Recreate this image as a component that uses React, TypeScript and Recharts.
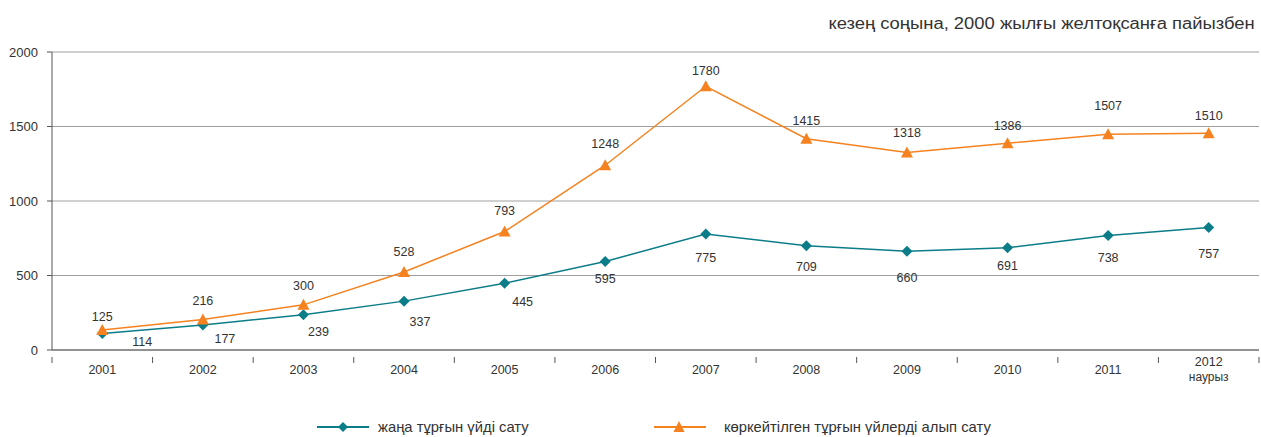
import React from "react";
import { LineChart, Line, XAxis, YAxis, CartesianGrid, LabelList } from "recharts";

// categories along the x axis
const years = ["2001", "2002", "2003", "2004", "2005", "2006", "2007", "2008", "2009", "2010", "2011", "2012"];
const yearNotes = ["", "", "", "", "", "", "", "", "", "", "", "наурыз"];

// plotted positions
const newHousing = [110, 168, 236, 328, 448, 594, 778, 700, 662, 686, 768, 822];
const resale = [135, 205, 303, 524, 795, 1240, 1770, 1418, 1325, 1388, 1448, 1455];

// printed data labels
const newHousingLabels = ["114", "177", "239", "337", "445", "595", "775", "709", "660", "691", "738", "757"];
const resaleLabels = ["125", "216", "300", "528", "793", "1248", "1780", "1415", "1318", "1386", "1507", "1510"];

const yTicks = [0, 500, 1000, 1500, 2000];

const TEAL = "#0b7d88";
const ORANGE = "#f5821f";
const FONT = "'Liberation Sans', Arial, sans-serif";

// label nudges (px), as placed in the original
const tealLabelDx = [40, 22, 15, 16, 18, 0, 0, 0, 0, 0, 0, 0];
const tealLabelDy = [12, 18, 21, 25, 23, 22, 28, 25, 31, 22, 26, 30];
const orangeLabelDy = [-9, -14, -15, -16, -17, -17, -11, -14, -16, -13, -24, -13];

const data = years.map((y, i) => ({
  year: y,
  newHousing: newHousing[i],
  resale: resale[i],
  newLabel: newHousingLabels[i],
  resaleLabel: resaleLabels[i],
}));

const BAND = (1259 - 52) / years.length;

const Diamond = (props: any) => {
  const { cx, cy } = props;
  if (cx == null || cy == null) return null;
  const r = 5.5;
  return <polygon points={`${cx},${cy - r} ${cx + r},${cy} ${cx},${cy + r} ${cx - r},${cy}`} fill={TEAL} />;
};

const Triangle = (props: any) => {
  const { cx, cy } = props;
  if (cx == null || cy == null) return null;
  return <polygon points={`${cx},${cy - 6} ${cx + 6},${cy + 5} ${cx - 6},${cy + 5}`} fill={ORANGE} />;
};

const YearTick = (props: any) => {
  const { x, y, payload, index } = props;
  const note = yearNotes[index];
  const left = x - BAND / 2;
  return (
    <g>
      <line x1={left} y1={y - 1} x2={left} y2={y + 5} stroke="#555" />
      {index === years.length - 1 && <line x1={x + BAND / 2} y1={y - 1} x2={x + BAND / 2} y2={y + 5} stroke="#555" />}
      <text x={x} y={y + (note ? 8 : 16)} textAnchor="middle" fontSize={12.5} fill="#333" fontFamily={FONT}>
        {payload.value}
      </text>
      {note && (
        <text x={x} y={y + 23} textAnchor="middle" fontSize={12} fill="#333" fontFamily={FONT}>
          {note}
        </text>
      )}
    </g>
  );
};

const TealLabel = (props: any) => {
  const { x, y, value, index } = props;
  return (
    <text x={x + tealLabelDx[index]} y={y + tealLabelDy[index]} textAnchor="middle" fontSize={12.5} fill="#333" fontFamily={FONT}>
      {value}
    </text>
  );
};

const OrangeLabel = (props: any) => {
  const { x, y, value, index } = props;
  return (
    <text x={x} y={y + orangeLabelDy[index]} textAnchor="middle" fontSize={12.5} fill="#333" fontFamily={FONT}>
      {value}
    </text>
  );
};

function LegendItem({ color, label, marker, left }: { color: string; label: string; marker: "diamond" | "triangle"; left: number }) {
  return (
    <div style={{ position: "absolute", left, top: 419, display: "flex", alignItems: "center", whiteSpace: "nowrap" }}>
      <svg width={52} height={14} style={{ marginRight: marker === "diamond" ? 9 : 18 }}>
        <line x1={0} y1={7} x2={52} y2={7} stroke={color} strokeWidth={2} />
        {marker === "diamond" ? (
          <polygon points="26,2 31,7 26,12 21,7" fill={color} />
        ) : (
          <polygon points="25,1 30.5,12 19.5,12" fill={color} />
        )}
      </svg>
      <span>{label}</span>
    </div>
  );
}

export default function App() {
  return (
    <div style={{ position: "relative", width: 1261, height: 437, background: "#fff", fontFamily: FONT }}>
      <style>{`body{margin:0}`}</style>
      <div
        style={{
          position: "absolute",
          right: 6,
          top: 15,
          fontSize: 16,
          color: "#333",
          whiteSpace: "nowrap",
          transform: "scaleX(1.15)",
          transformOrigin: "right center",
        }}
      >
        кезең соңына, 2000 жылғы желтоқсанға пайызбен
      </div>
      <LineChart width={1261} height={437} data={data} margin={{ top: 52, right: 2, bottom: 47, left: 0 }}>
        <CartesianGrid vertical={false} stroke="#a0a0a0" />
        <XAxis
          dataKey="year"
          height={40}
          axisLine={{ stroke: "#555" }}
          tickLine={false}
          tick={<YearTick />}
          interval={0}
          padding={{ left: BAND / 2, right: BAND / 2 }}
        />
        <YAxis
          width={52}
          domain={[0, 2000]}
          ticks={yTicks}
          axisLine={{ stroke: "#555" }}
          tickLine={{ stroke: "#555" }}
          tickSize={5}
          tickMargin={9}
          tick={{ fontSize: 13, fill: "#333", fontFamily: FONT }}
        />
        <Line
          dataKey="newHousing"
          stroke={TEAL}
          strokeWidth={1.5}
          dot={<Diamond />}
          activeDot={false}
          isAnimationActive={false}
        >
          <LabelList dataKey="newLabel" content={<TealLabel />} />
        </Line>
        <Line
          dataKey="resale"
          stroke={ORANGE}
          strokeWidth={1.5}
          dot={<Triangle />}
          activeDot={false}
          isAnimationActive={false}
        >
          <LabelList dataKey="resaleLabel" content={<OrangeLabel />} />
        </Line>
      </LineChart>
      <div style={{ fontSize: 14.8, color: "#333" }}>
        <LegendItem color={TEAL} label="жаңа тұрғын үйді сату" marker="diamond" left={317} />
        <LegendItem color={ORANGE} label="көркейтілген тұрғын үйлерді алып сату" marker="triangle" left={654} />
      </div>
    </div>
  );
}
